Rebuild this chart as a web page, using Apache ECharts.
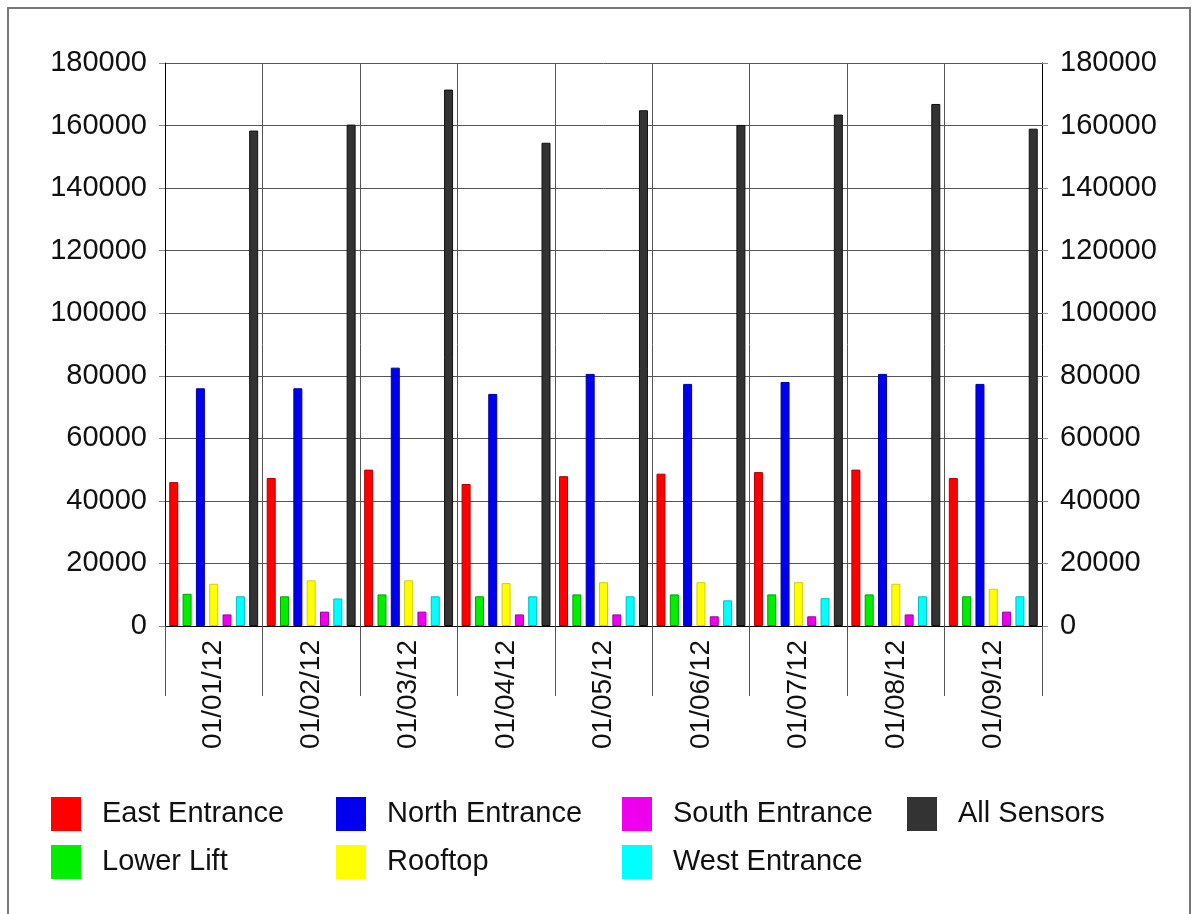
<!DOCTYPE html>
<html><head><meta charset="utf-8">
<script src="https://cdn.jsdelivr.net/npm/echarts@6/dist/echarts.min.js"></script>
<style>html,body{margin:0;padding:0;background:#fff}#c{width:1197px;height:914px}</style>
</head><body><div id="c"></div>
<script>
const categories = ['01/01/12','01/02/12','01/03/12','01/04/12','01/05/12','01/06/12','01/07/12','01/08/12','01/09/12'];
const eastEntrance  = [46000, 47300, 50000, 45400, 47900, 48700, 49200, 50000, 47300];
const lowerLift     = [10300,  9500, 10100,  9500, 10100, 10100, 10100, 10100,  9500];
const northEntrance = [76000, 76000, 82600, 74200, 80600, 77400, 78000, 80600, 77400];
const rooftop       = [13500, 14600, 14600, 13700, 14000, 14000, 14000, 13500, 11900];
const southEntrance = [ 3700,  4600,  4600,  3700,  3700,  3100,  3100,  3700,  4600];
const westEntrance  = [ 9500,  8800,  9500,  9500,  9500,  8200,  8900,  9500,  9500];
const allSensors    = [158400, 160300, 171500, 154500, 164900, 160200, 163500, 166900, 159000];
const yTicks = [0, 20000, 40000, 60000, 80000, 100000, 120000, 140000, 160000, 180000];

const FONT = 'Liberation Sans';
const seriesDefs = [
  ['East Entrance', eastEntrance, '#ff0000', '#b00000'],
  ['Lower Lift', lowerLift, '#00ee00', '#00a000'],
  ['North Entrance', northEntrance, '#0000f0', '#0000a0'],
  ['Rooftop', rooftop, '#ffff00', '#d0d000'],
  ['South Entrance', southEntrance, '#ee00ee', '#a000a0'],
  ['West Entrance', westEntrance, '#00ffff', '#00c0c0'],
  ['All Sensors', allSensors, '#333333', '#111111']
];
const yMin = yTicks[0], yMax = yTicks[yTicks.length-1], yInt = yTicks[1]-yTicks[0];
function yAxis(pos){
  return {
    type:'value', position:pos, min:yMin, max:yMax, interval:yInt,
    axisLine:{show:true, lineStyle:{color:'#000', width:1}},
    axisTick:{show:true, length:6, lineStyle:{color:'#888'}},
    axisLabel:{color:'#111', fontSize:29, fontFamily:FONT, margin:18, formatter:v => String(v)},
    splitLine:{show:pos==='left', lineStyle:{color:'#555', width:1}}
  };
}
function legend(names, left){
  return {
    data:names, orient:'vertical', left:left, top:792,
    itemWidth:30, itemHeight:34, itemGap:14,
    icon:'rect',
    itemStyle:{borderWidth:0},
    textStyle:{fontSize:29, fontFamily:FONT, color:'#111', padding:[0,0,0,16]}
  };
}
const chart = echarts.init(document.getElementById('c'), null, {renderer:'canvas'});
chart.setOption({
  animation:false,
  backgroundColor:'#fff',
  graphic:[{type:'rect', shape:{x:8, y:8, width:1182, height:940}, style:{fill:'none', stroke:'#777', lineWidth:2}}],
  grid:{left:165, right:155, top:63, bottom:288, containLabel:false},
  legend:[
    legend(['East Entrance','Lower Lift'], 46),
    legend(['North Entrance','Rooftop'], 331),
    legend(['South Entrance','West Entrance'], 617),
    legend(['All Sensors'], 902)
  ],
  xAxis:{
    type:'category', data:categories,
    axisLine:{show:true, lineStyle:{color:'#000'}},
    axisTick:{show:true, length:70, interval:0, lineStyle:{color:'#555'}},
    axisLabel:{rotate:90, interval:0, fontSize:28, fontFamily:FONT, color:'#111', margin:14},
    splitLine:{show:true, interval:0, lineStyle:{color:'#555', width:1}}
  },
  yAxis:[yAxis('left'), yAxis('right')],
  series: seriesDefs.map(([name, data, color, border]) => ({
    name, type:'bar', data, barWidth:9, barGap:'48%',
    itemStyle:{color, borderColor:border, borderWidth:1}
  }))
});
</script></body></html>
